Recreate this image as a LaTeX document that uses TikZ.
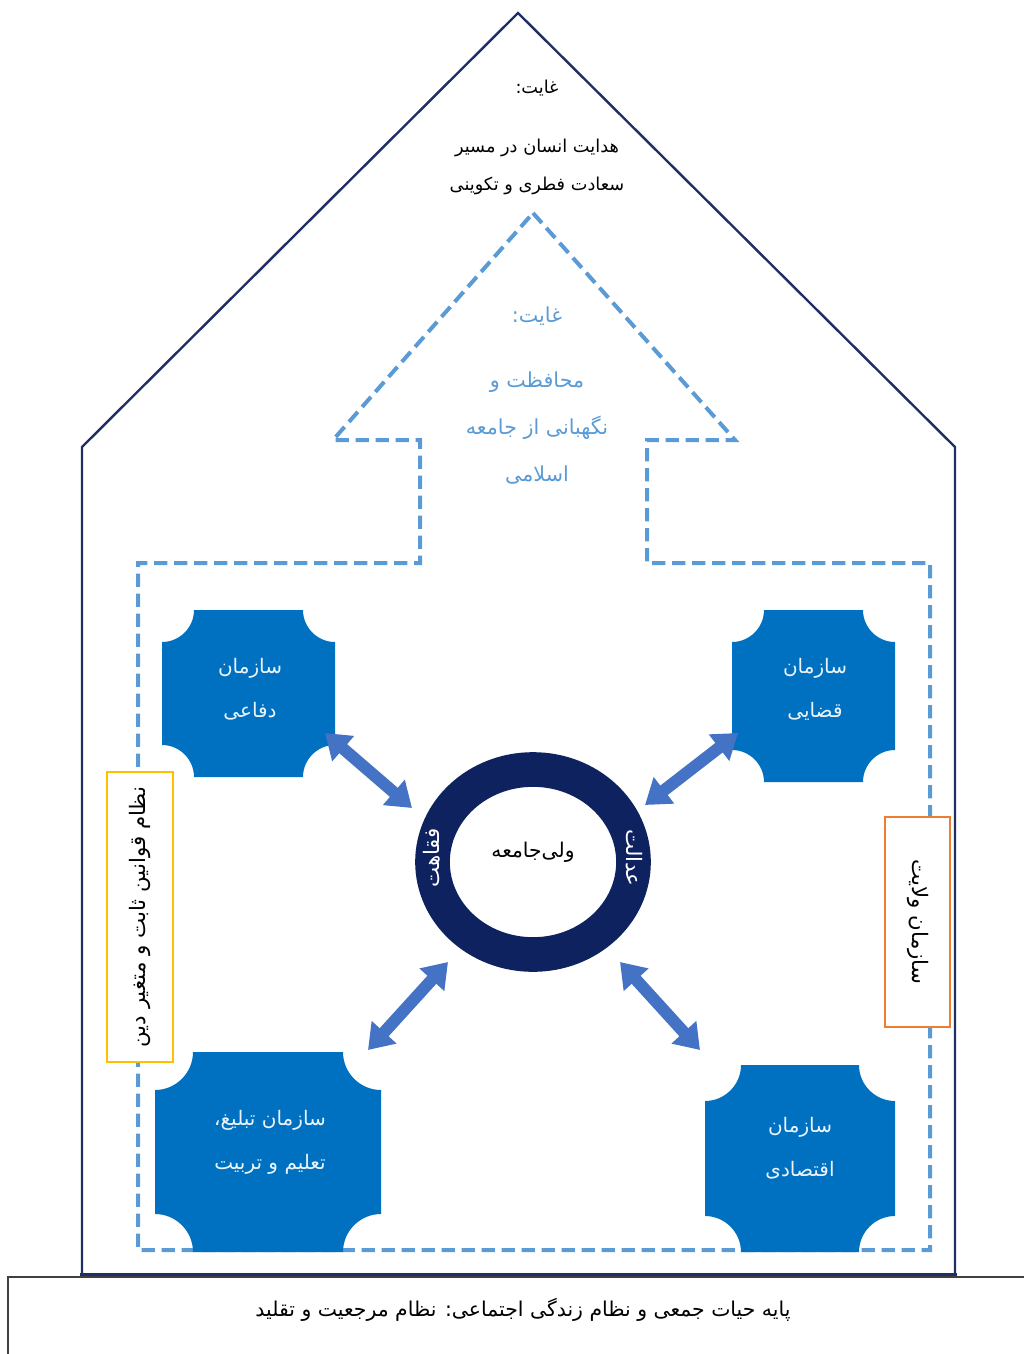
\documentclass[tikz,border=0pt]{standalone}
\usepackage{fontspec}
\usepackage{tikz}
\usetikzlibrary{arrows.meta}
\usetikzlibrary{positioning}
\TeXXeTstate=1
\newfontfamily\arabicfont[Script=Arabic]{DejaVu Sans}
\newcommand{\fa}[1]{\beginR #1\endR}
\definecolor{housenavy}{HTML}{1F2F66}
\definecolor{ringnavy}{HTML}{0E2260}
\definecolor{dashblue}{HTML}{5B9BD5}
\definecolor{plaqueblue}{HTML}{0070C0}
\definecolor{arrowblue}{HTML}{4472C4}
\definecolor{lawyellow}{HTML}{FFC000}
\definecolor{wilaorange}{HTML}{ED7D31}
% plaque: x1,y1,x2,y2,corner radius
\newcommand{\plaque}[5]{%
  \fill[plaqueblue] (#1+#5,#2) -- (#3-#5,#2)
    .. controls (#3-#5,#2+0.55*#5) and (#3-0.55*#5,#2+#5) .. (#3,#2+#5) -- (#3,#4-#5)
    .. controls (#3-0.55*#5,#4-#5) and (#3-#5,#4-0.55*#5) .. (#3-#5,#4) -- (#1+#5,#4)
    .. controls (#1+#5,#4-0.55*#5) and (#1+0.55*#5,#4-#5) .. (#1,#4-#5) -- (#1,#2+#5)
    .. controls (#1+0.55*#5,#2+#5) and (#1+#5,#2+0.55*#5) .. (#1+#5,#2) -- cycle;}

\begin{document}
\begin{tikzpicture}[x=0.75pt,y=0.75pt,yscale=-1,xscale=1]
  \useasboundingbox (0,0) rectangle (1024,1354);
  \tikzstyle{fatext} = [font=\arabicfont\fontsize{13.3}{29}\selectfont, align=center, inner sep=0.75pt]
  \tikzstyle{goaltext} = [fatext, text=dashblue, font=\arabicfont\fontsize{15.5}{35.6}\selectfont]
  \tikzstyle{orgtext} = [fatext, text=white!92!plaqueblue, font=\arabicfont\fontsize{15}{33}\selectfont]
  \tikzstyle{sidetext} = [fatext, font=\arabicfont\fontsize{16}{20}\selectfont]
  \tikzstyle{bi} = [line width=9pt, draw=arrowblue, {Triangle[length=18pt,width=24pt]}-{Triangle[length=18pt,width=24pt]}]
  %Draw the house
  \draw[housenavy, line width=1.8pt, line join=miter] (82,1275) -- (82,447) -- (518,13) -- (955,447) -- (955,1275);
  \draw[housenavy, line width=3pt] (80,1275) -- (957,1275);
  %Draw the base box
  \draw[black!75, line width=1.1pt] (1030,1277) -- (8,1277) -- (8,1360);
  %Draw the dashed arrow
  \draw[dashblue, line width=3pt, dash pattern=on 10pt off 5pt] (533,213) -- (735,440) -- (647,440) -- (647,563) -- (930,563) -- (930,1250) -- (138,1250) -- (138,563) -- (420,563) -- (420,440) -- (333,440) -- cycle;

  % Label the goals
  \node[fatext] (goal) at (537,88) {\fa{غایت:}};
  \node[fatext] (guidance) at (537,167) {\fa{هدایت انسان در مسیر}\\\fa{سعادت فطری و تکوینی}};
  \node[goaltext] (subgoal) at (537,316) {\fa{غایت:}};
  \node[goaltext] (protect) at (537,428) {\fa{محافظت و}\\\fa{نگهبانی از جامعه}\\\fa{اسلامی}};

  % Draw the organisations
  \plaque{162}{610}{335}{777}{32}
  \plaque{732}{610}{895}{782}{32}
  \plaque{155}{1052}{381}{1252}{38}
  \plaque{705}{1065}{895}{1252}{36}
  \node[orgtext] (defence) at (250,689) {\fa{سازمان}\\\fa{دفاعی}};
  \node[orgtext] (judiciary) at (815,689) {\fa{سازمان}\\\fa{قضایی}};
  \node[orgtext] (education) at (270,1142) {\fa{سازمان تبلیغ،}\\\fa{تعلیم و تربیت}};
  \node[orgtext] (economy) at (800,1148) {\fa{سازمان}\\\fa{اقتصادی}};

  % Draw the ring
  \node[fatext, font=\arabicfont\fontsize{15.2}{18}\selectfont] (leader) at (533,852) {\fa{ولی‌جامعه}};
  \draw[ringnavy, line width=26pt] (533,862) ellipse (100.5 and 92.5);
  \node[sidetext, text=white, rotate=90] (fiqh) at (432,858) {\fa{فقاهت}};
  \node[sidetext, text=white, rotate=-90] (justice) at (634,858) {\fa{عدالت}};

  % Draw the arrows
  \coordinate (d1) at (325,733);
  \coordinate (d2) at (412,808);
  \coordinate (j1) at (738,733);
  \coordinate (j2) at (645,805);
  \coordinate (e1) at (448,962);
  \coordinate (e2) at (368,1050);
  \coordinate (c1) at (620,962);
  \coordinate (c2) at (700,1050);
  \draw[bi] (d1) -- (d2);
  \draw[bi] (j1) -- (j2);
  \draw[bi] (e1) -- (e2);
  \draw[bi] (c1) -- (c2);

  % Side boxes
  \node[sidetext, draw=lawyellow, line width=1.5pt, fill=white, rotate=90, minimum width=217.5pt, minimum height=49.5pt] (laws) at (140,917) {\fa{نظام قوانین ثابت و متغیر دین}};
  \node[sidetext, draw=wilaorange, line width=1.5pt, fill=white, rotate=-90, minimum width=157.5pt, minimum height=48.75pt] (wilaya) at (917.5,922) {\fa{سازمان ولایت}};

  % Base label
  \node[fatext, font=\arabicfont\fontsize{15.3}{18}\selectfont] (base) at (523,1310) {\fa{پایه حیات جمعی و نظام زندگی اجتماعی: نظام مرجعیت و تقلید}};
\end{tikzpicture}
\end{document}
